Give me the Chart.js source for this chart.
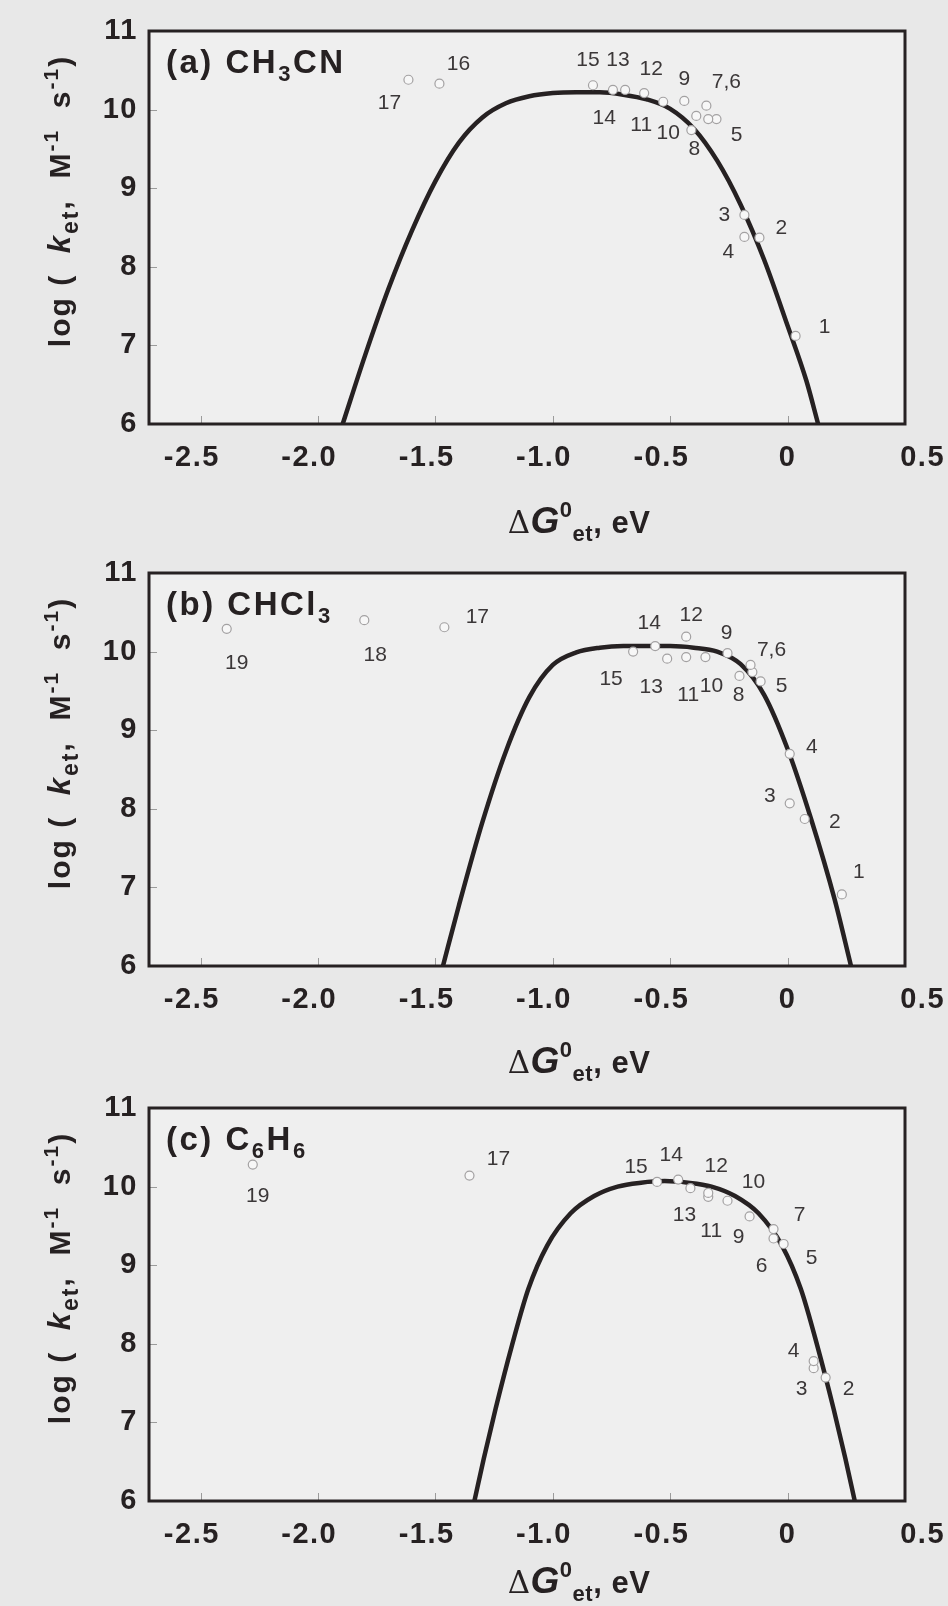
<!DOCTYPE html>
<html>
<head>
<meta charset="utf-8">
<script src="https://cdn.jsdelivr.net/npm/chart.js@4.4.0/dist/chart.umd.min.js"></script>
<style>
  html, body { margin: 0; padding: 0; background: #e8e8e8; }
  #page { position: relative; width: 948px; height: 1606px; overflow: hidden; }
  canvas { position: absolute; left: 0; }
</style>
</head>
<body>
<div id="page">
  <canvas id="panelA" width="948" height="560" style="top:0px"></canvas>
  <canvas id="panelB" width="948" height="560" style="top:542px"></canvas>
  <canvas id="panelC" width="948" height="529" style="top:1077px"></canvas>
</div>
<script>
// ---- axes ----
const xTickValues = [-2.5, -2.0, -1.5, -1.0, -0.5, 0, 0.5];
const yTickValues = [6, 7, 8, 9, 10, 11];
const xMin = -2.72, xMax = 0.5;
const yMin = 6, yMax = 11;

// ---- (a) CH3CN: measured rate constants ----
const aNum = [1, 2, 3, 4, 5, 6, 7, 8, 9, 10, 11, 12, 13, 14, 15, 16, 17];
const aDG  = [0.034, -0.120, -0.184, -0.184, -0.303, -0.338, -0.346, -0.41, -0.440, -0.389, -0.530, -0.611, -0.744, -0.692, -0.829, -1.483, -1.615];
const aLogK = [7.12, 8.37, 8.66, 8.38, 9.88, 9.88, 10.05, 9.74, 10.11, 9.92, 10.10, 10.21, 10.25, 10.25, 10.31, 10.33, 10.38];
const aText = ['1', '2', '3', '4', '5', '', '7,6', '8', '9', '10', '11', '12', '13', '14', '15', '16', '17'];
// (a) Marcus curve
const aCurveDG   = [-1.895, -1.8, -1.7, -1.6, -1.5, -1.4, -1.3, -1.2, -1.1, -1.0, -0.9, -0.8, -0.7, -0.6, -0.5, -0.4, -0.3, -0.2, -0.1, 0, 0.08, 0.13];
const aCurveLogK = [6.0, 6.87, 7.72, 8.46, 9.09, 9.58, 9.90, 10.08, 10.17, 10.21, 10.22, 10.22, 10.19, 10.13, 10.01, 9.76, 9.35, 8.79, 8.09, 7.25, 6.55, 6.0];

// ---- (b) CHCl3 ----
const bNum = [1, 2, 3, 4, 5, 6, 7, 8, 9, 10, 11, 12, 13, 14, 15, 17, 18, 19];
const bDG  = [0.231, 0.073, 0.009, 0.009, -0.115, -0.150, -0.158, -0.205, -0.256, -0.350, -0.432, -0.432, -0.513, -0.564, -0.658, -1.462, -1.803, -2.389];
const bLogK = [6.91, 7.87, 8.07, 8.70, 9.62, 9.74, 9.83, 9.69, 9.98, 9.93, 9.93, 10.19, 9.91, 10.07, 10.00, 10.31, 10.40, 10.29];
const bText = ['1', '2', '3', '4', '5', '', '7,6', '8', '9', '10', '11', '12', '13', '14', '15', '17', '18', '19'];
const bCurveDG   = [-1.468, -1.4, -1.3, -1.2, -1.1, -1.0, -0.9, -0.8, -0.7, -0.6, -0.5, -0.4, -0.3, -0.2, -0.1, 0, 0.1, 0.2, 0.27];
const bCurveLogK = [6.0, 6.77, 7.83, 8.73, 9.42, 9.83, 9.99, 10.05, 10.07, 10.07, 10.07, 10.05, 10.0, 9.84, 9.45, 8.76, 7.87, 6.85, 6.0];

// ---- (c) C6H6 ----
const cNum = [2, 3, 4, 5, 6, 7, 9, 10, 11, 12, 13, 14, 15, 17, 19];
const cDG  = [0.162, 0.111, 0.111, -0.017, -0.060, -0.060, -0.162, -0.256, -0.338, -0.338, -0.414, -0.466, -0.556, -1.355, -2.278];
const cLogK = [7.57, 7.69, 7.78, 9.27, 9.34, 9.46, 9.62, 9.82, 9.87, 9.92, 9.98, 10.09, 10.06, 10.14, 10.28];
const cText = ['2', '3', '4', '5', '6', '7', '9', '10', '11', '12', '13', '14', '15', '17', '19'];
const cCurveDG   = [-1.334, -1.294, -1.244, -1.174, -1.104, -1.024, -0.924, -0.824, -0.724, -0.624, -0.524, -0.424, -0.324, -0.224, -0.124, -0.024, 0.056, 0.126, 0.196, 0.246, 0.286];
const cCurveLogK = [6.0, 6.54, 7.17, 7.98, 8.7, 9.25, 9.66, 9.88, 10.0, 10.05, 10.07, 10.05, 10.0, 9.88, 9.66, 9.25, 8.7, 7.98, 7.17, 6.54, 6.0];

// label placement (pixel offsets from each marker)
const aLabelOffset = [[29,-9],[22,-10],[-20,0],[-16,15],[20,16],[0,0],[20,-23],[3,19],[0,-22],[-28,17],[-22,23],[7,-24],[5,-30],[-21,28],[-5,-25],[19,-19],[-19,23]];
const bLabelOffset = [[17,-22],[30,3],[-20,-7],[22,-7],[21,5],[0,0],[21,-15],[-1,19],[-1,-20],[6,29],[2,38],[5,-21],[-16,29],[-6,-23],[-22,28],[33,-10],[11,35],[10,34]];
const cLabelOffset = [[23,12],[-12,21],[-20,-10],[28,14],[-12,28],[26,-14],[-11,21],[26,-19],[3,34],[8,-27],[-6,27],[-7,-24],[-21,-15],[29,-16],[5,32]];

const INK = '#262122';
const SANS = '"Liberation Sans", Arial, Helvetica, sans-serif';
const TOP = 31, PLOT_H = 393;

function drawRuns(ctx, runs, x, y, align) {
  let total = 0;
  runs.forEach(r => { ctx.font = r.f; r.w = ctx.measureText(r.t).width; total += r.w; });
  let cx = align === 'center' ? x - total / 2 : x;
  runs.forEach(r => { ctx.font = r.f; ctx.fillText(r.t, cx, y + (r.dy || 0)); cx += r.w; });
}

// tick text: the minus sign hangs to the left of the centred number
function xTickText(v) {
  if (v === 0) return '0';
  if (v === 0.5) return '\u2007\u20070.5';
  return v.toFixed(1) + '\u2007';
}

function makePanel(canvasId, canvasH, nameRuns, titleGap, text, offsets, dg, logk, curveDG, curveLogK) {
  const points = dg.map((v, i) => ({ x: v, y: logk[i] }));
  const curve = curveDG.map((v, i) => ({ x: v, y: curveLogK[i] }));

  const framePlugin = {
    id: 'frame',
    beforeDraw(chart) {
      const { ctx, chartArea: a } = chart;
      ctx.save();
      ctx.fillStyle = '#efefef';
      ctx.fillRect(a.left, a.top, a.right - a.left, a.bottom - a.top);
      ctx.restore();
      ctx.letterSpacing = '1.5px';
    },
    afterDatasetsDraw(chart) {
      const { ctx, chartArea: a, scales } = chart;
      ctx.save();
      ctx.letterSpacing = '0px';
      // short inward ticks
      ctx.strokeStyle = '#9b9b9b';
      ctx.lineWidth = 1;
      yTickValues.forEach(v => {
        if (v <= yMin || v >= yMax) return;
        const py = Math.round(scales.y.getPixelForValue(v)) + 0.5;
        ctx.beginPath(); ctx.moveTo(a.left, py); ctx.lineTo(a.left + 8, py); ctx.stroke();
      });
      xTickValues.forEach(v => {
        if (v <= xMin || v >= xMax) return;
        const px = Math.round(scales.x.getPixelForValue(v)) + 0.5;
        ctx.beginPath(); ctx.moveTo(px, a.bottom); ctx.lineTo(px, a.bottom - 8); ctx.stroke();
      });
      // frame
      ctx.strokeStyle = INK;
      ctx.lineWidth = 3;
      ctx.strokeRect(a.left, a.top, a.right - a.left, a.bottom - a.top);

      // compound numbers beside the markers
      ctx.fillStyle = '#3b3738';
      ctx.font = '21px ' + SANS;
      ctx.textAlign = 'center';
      ctx.textBaseline = 'middle';
      points.forEach((p, i) => {
        if (!text[i]) return;
        const px = scales.x.getPixelForValue(p.x);
        const py = scales.y.getPixelForValue(p.y);
        ctx.fillText(text[i], px + offsets[i][0], py + offsets[i][1]);
      });

      // panel name
      ctx.fillStyle = INK;
      ctx.textAlign = 'left';
      ctx.textBaseline = 'alphabetic';
      ctx.letterSpacing = '2.5px';
      drawRuns(ctx, nameRuns, a.left + 17, a.top + 42, 'left');

      // x-axis title
      ctx.letterSpacing = '0.5px';
      drawRuns(ctx, [
        { t: '\u0394', f: '31px "DejaVu Serif", serif' },
        { t: 'G', f: 'italic bold 37px ' + SANS },
        { t: '0', f: 'bold 22px ' + SANS, dy: -16 },
        { t: 'et', f: 'bold 22px ' + SANS, dy: 8 },
        { t: ', eV', f: 'bold 31px ' + SANS }
      ], (a.left + a.right) / 2 + 52, a.bottom + titleGap, 'center');

      // y-axis title
      ctx.translate(70, a.top + 170);
      ctx.rotate(-Math.PI / 2);
      ctx.letterSpacing = '2px';
      drawRuns(ctx, [
        { t: 'log (  ', f: 'bold 30px ' + SANS },
        { t: 'k', f: 'italic bold 31px ' + SANS },
        { t: 'et', f: 'bold 23px ' + SANS, dy: 8 },
        { t: ',  M', f: 'bold 30px ' + SANS },
        { t: '-1', f: 'bold 21px ' + SANS, dy: -12 },
        { t: '  s', f: 'bold 30px ' + SANS },
        { t: '-1', f: 'bold 21px ' + SANS, dy: -12 },
        { t: ')', f: 'bold 30px ' + SANS }
      ], 0, 0, 'center');
      ctx.restore();
    }
  };

  return new Chart(document.getElementById(canvasId), {
    type: 'scatter',
    data: {
      datasets: [
        {
          label: 'log k',
          data: points,
          pointStyle: 'circle',
          pointRadius: 4.5,
          pointBorderWidth: 1.2,
          pointBorderColor: '#a3a1a2',
          pointBackgroundColor: '#f7f7f7',
          showLine: false
        },
        {
          label: 'fit',
          data: curve,
          showLine: true,
          borderColor: INK,
          borderWidth: 4.5,
          pointRadius: 0,
          cubicInterpolationMode: 'monotone',
          borderCapStyle: 'butt'
        }
      ]
    },
    options: {
      responsive: false,
      animation: false,
      events: [],
      layout: { padding: { top: TOP, right: 43, left: 0, bottom: 0 } },
      plugins: { legend: { display: false }, tooltip: { enabled: false } },
      scales: {
        x: {
          type: 'linear', min: xMin, max: xMax,
          afterBuildTicks: s => { s.ticks = xTickValues.map(v => ({ value: v })); },
          afterFit: s => { s.height = canvasH - TOP - PLOT_H; s.paddingLeft = 0; s.paddingRight = 0; },
          grid: { display: false, drawTicks: false },
          border: { display: false },
          ticks: {
            padding: 17,
            color: INK,
            font: { family: SANS, size: 29, weight: 'bold' },
            maxRotation: 0,
            autoSkip: false,
            callback: xTickText
          }
        },
        y: {
          type: 'linear', min: yMin, max: yMax,
          afterBuildTicks: s => { s.ticks = yTickValues.map(v => ({ value: v })); },
          afterFit: s => { s.width = 149; },
          grid: { display: false, drawTicks: false },
          border: { display: false },
          ticks: {
            padding: 11,
            color: INK,
            font: { family: SANS, size: 29, weight: 'bold' },
            callback: v => String(v)
          }
        }
      }
    },
    plugins: [framePlugin]
  });
}

const B33 = 'bold 33px ' + SANS, B22 = 'bold 22px ' + SANS;
makePanel('panelA', 560,
  [{ t: '(a) CH', f: B33 }, { t: '3', f: B22, dy: 8 }, { t: 'CN', f: B33 }], 109,
  aText, aLabelOffset, aDG, aLogK, aCurveDG, aCurveLogK);
makePanel('panelB', 560,
  [{ t: '(b) CHCl', f: B33 }, { t: '3', f: B22, dy: 8 }], 107,
  bText, bLabelOffset, bDG, bLogK, bCurveDG, bCurveLogK);
makePanel('panelC', 529,
  [{ t: '(c) C', f: B33 }, { t: '6', f: B22, dy: 8 }, { t: 'H', f: B33 }, { t: '6', f: B22, dy: 8 }], 92,
  cText, cLabelOffset, cDG, cLogK, cCurveDG, cCurveLogK);
</script>
</body>
</html>
